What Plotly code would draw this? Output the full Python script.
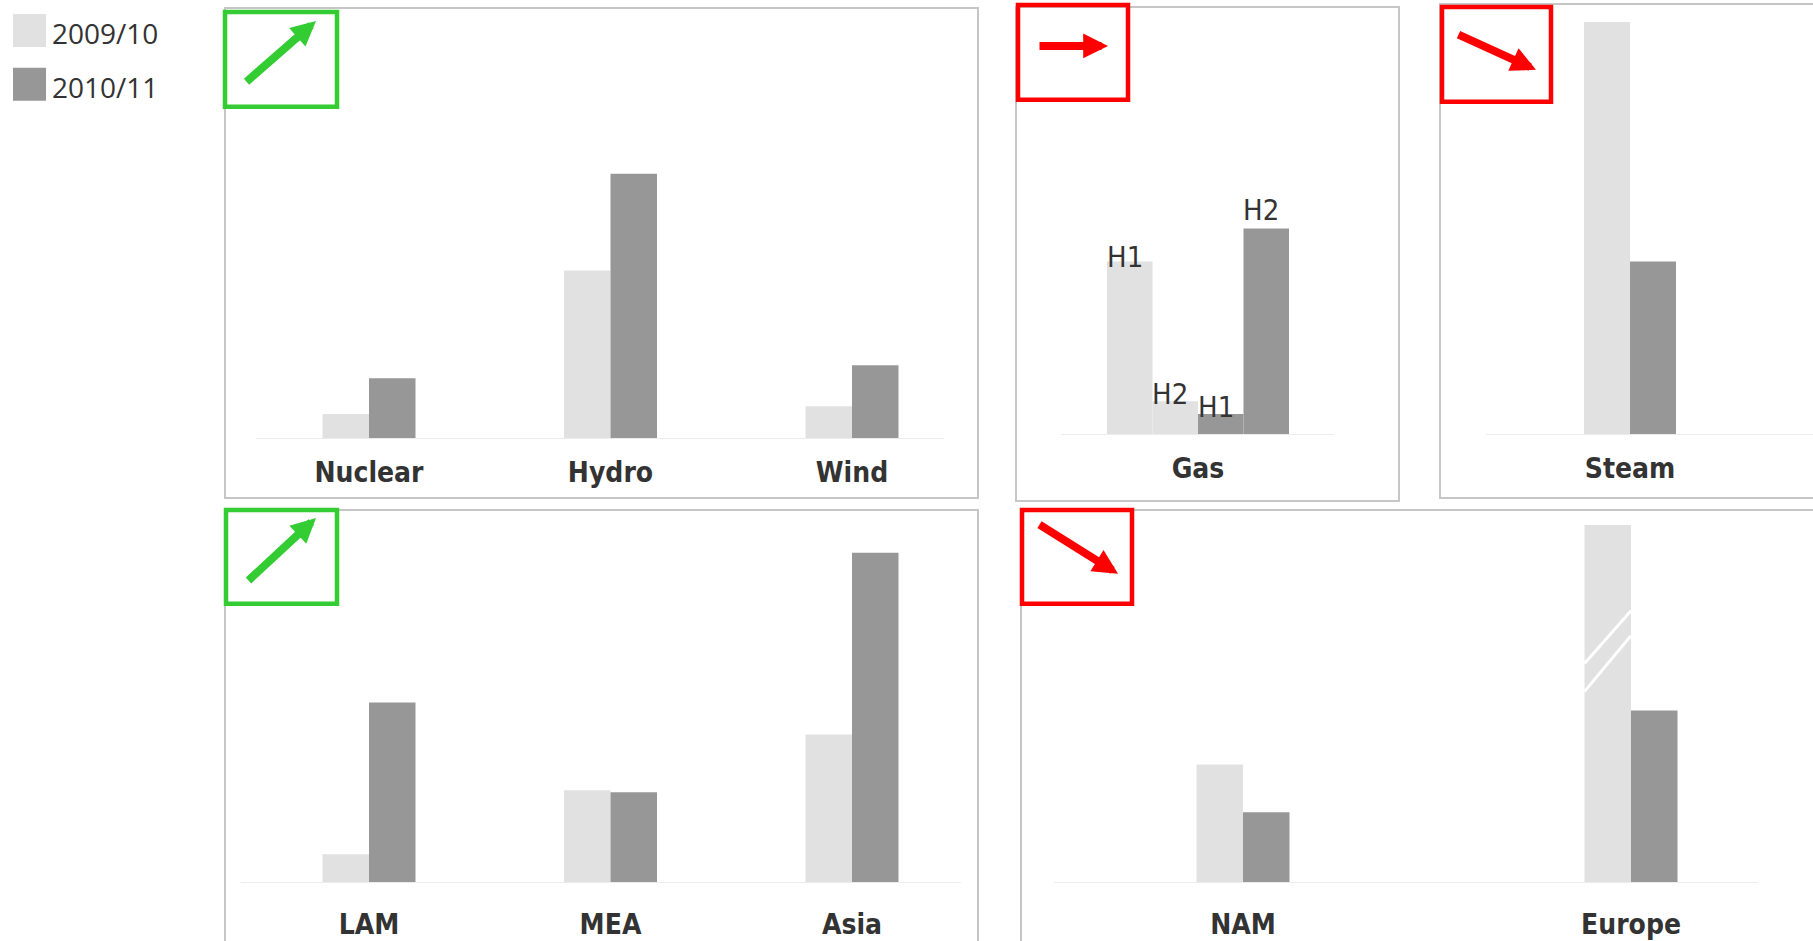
import plotly.graph_objects as go

W, H = 1813, 941

# ---- data -------------------------------------------------------------
SERIES = ["2009/10", "2010/11"]

tech_cats = ["Nuclear", "Hydro", "Wind"]
tech_0910 = [24, 168, 32]
tech_1011 = [60, 265, 73]

gas_cat = ["Gas"]
gas_halves = ["H1", "H2"]
gas_0910 = [173, 33]
gas_1011 = [20, 206]

steam_cat = ["Steam"]
steam_0910 = [413]
steam_1011 = [173]

region_cats = ["LAM", "MEA", "Asia"]
region_0910 = [28, 92, 148]
region_1011 = [180, 90, 330]

west_cats = ["NAM", "Europe"]
west_0910 = [118, 358]
west_1011 = [70, 172]

# ---- styling ----------------------------------------------------------
COLORS = ["#e1e1e1", "#979797"]
GREEN = "#33cc33"
RED = "#ff0000"
FRAME = "#c6c6c6"
TEXT = "#333333"
LABEL_FONT = "Liberation Sans Narrow, DejaVu Sans Condensed, sans-serif"
LEGEND_FONT = "Open Sans, sans-serif"


def fx(x):
    return x / W


def fy(y):
    return 1 - y / H


# panel geometry in pixels: axis extent, first category centre, category step,
# baseline and top of the plotting area, bar width
panels = [
    dict(x0=256, x1=944, first=369, step=241.5, base=439, top=10, bw=46.5),
    dict(x0=1061, x1=1334, first=1198, step=241.5, base=435, top=10, bw=45.5),
    dict(x0=1486, x1=1813, first=1630, step=241.5, base=435, top=10, bw=46.0),
    dict(x0=241, x1=961, first=369, step=241.5, base=884, top=515, bw=46.5),
    dict(x0=1054, x1=1758, first=1243, step=388.0, base=884, top=515, bw=46.5),
]

fig = go.Figure()


def axis_names(n):
    return ("x" if n == 1 else f"x{n}"), ("y" if n == 1 else f"y{n}")


def add_pair(n, cats, v0, v1):
    p = panels[n - 1]
    bw = p["bw"] / p["step"]
    xa, ya = axis_names(n)
    for vals, col, off, name in ((v0, COLORS[0], -bw, SERIES[0]), (v1, COLORS[1], 0.0, SERIES[1])):
        fig.add_trace(go.Bar(
            x=cats, y=vals, name=name, marker=dict(color=col, line=dict(width=0)),
            width=bw, offset=off, xaxis=xa, yaxis=ya, showlegend=False,
            hoverinfo="x+y+name",
        ))


add_pair(1, tech_cats, tech_0910, tech_1011)
add_pair(3, steam_cat, steam_0910, steam_1011)
add_pair(4, region_cats, region_0910, region_1011)
add_pair(5, west_cats, west_0910, west_1011)

# gas: each season split into half-years, four adjacent bars with H1/H2 tags
p = panels[1]
bw = p["bw"] / p["step"]
tag_shift = [-15, -12, -12, 0]
k = 0
for vals, col, name in ((gas_0910, COLORS[0], SERIES[0]), (gas_1011, COLORS[1], SERIES[1])):
    for half, v in zip(gas_halves, vals):
        off = (k - 2) * bw
        fig.add_trace(go.Bar(
            x=gas_cat, y=[v], name=f"{name} {half}", marker=dict(color=col, line=dict(width=0)),
            width=bw, offset=off, xaxis="x2", yaxis="y2", showlegend=False,
        ))
        fig.add_annotation(xref="x2", yref="y2", x=off + bw / 2, y=v, text=half,
                           showarrow=False, xanchor="center", yanchor="bottom",
                           xshift=-5, yshift=tag_shift[k],
                           font=dict(family=LABEL_FONT, size=29, color=TEXT))
        k += 1

layout = dict(
    width=W, height=H, margin=dict(l=0, r=0, t=0, b=0),
    paper_bgcolor="white", plot_bgcolor="white",
    barmode="overlay", showlegend=False,
    font=dict(family=LEGEND_FONT, color=TEXT),
)

for n, p in enumerate(panels, start=1):
    xa, ya = axis_names(n)
    xkey = "xaxis" if n == 1 else f"xaxis{n}"
    ykey = "yaxis" if n == 1 else f"yaxis{n}"
    layout[xkey] = dict(
        domain=[fx(p["x0"]), fx(p["x1"])], anchor=ya, type="category",
        range=[(p["x0"] - p["first"]) / p["step"], (p["x1"] - p["first"]) / p["step"]],
        showline=True, linecolor="#ececec", linewidth=1, showgrid=False, zeroline=False,
        ticks="", ticklabelstandoff=9 if p["base"] < 500 else 17,
        tickfont=dict(family=LABEL_FONT, size=28, color=TEXT, weight="bold"),
        fixedrange=True,
    )
    layout[ykey] = dict(
        domain=[fy(p["base"]), fy(p["top"])], anchor=xa,
        range=[0, p["base"] - p["top"]], visible=False, fixedrange=True,
    )

fig.update_layout(**layout)

# panel frames (right-hand and bottom panels run off the page)
frames = [(225, 8, 978, 499), (1016, 7, 1399, 502), (1440, 4, 1830, 499),
          (225, 511, 978, 960), (1021, 511, 1830, 960)]
for x0, y0, x1, y1 in frames:
    fig.add_shape(type="rect", xref="paper", yref="paper",
                  x0=fx(x0), x1=fx(x1), y0=fy(y0), y1=fy(y1),
                  line=dict(color=FRAME, width=2), layer="below")

# trend indicators: framed box with an arrow
indicators = [
    ((223, 10, 339, 109), GREEN, (316, 21), (-71, 62)),
    ((1016, 3, 1130, 102), RED, (1108, 46), (-70, 0)),
    ((1440, 5, 1553, 104), RED, (1536, 70), (-79, -36)),
    ((224, 509, 339, 607), GREEN, (316, 519), (-69, 64)),
    ((1020, 509, 1134, 607), RED, (1118, 575), (-80, -50)),
]
for (x0, y0, x1, y1), col, (tx, ty), (ax, ay) in indicators:
    fig.add_shape(type="rect", xref="paper", yref="paper",
                  x0=fx(x0 + 2), x1=fx(x1 - 2), y0=fy(y0 + 2), y1=fy(y1 - 2),
                  line=dict(color=col, width=4.5), layer="above")
    fig.add_annotation(xref="paper", yref="paper", x=fx(tx), y=fy(ty), ax=ax, ay=ay,
                       text="", showarrow=True, arrowhead=2, arrowsize=0.62,
                       arrowwidth=8, arrowcolor=col, standoff=0, startstandoff=0)

# axis-break marks on the truncated Europe 2009/10 bar
p5 = panels[4]
bw5 = p5["bw"] / p5["step"]
ei = west_cats.index("Europe")
for ya0, ya1 in ((219, 272), (191, 247)):
    fig.add_shape(type="line", xref="x5", yref="y5",
                  x0=ei - bw5, x1=ei, y0=ya0, y1=ya1,
                  line=dict(color="white", width=3), layer="above")

# legend swatches
for i, (name, col) in enumerate(zip(SERIES, COLORS)):
    top = 14 + i * 54
    fig.add_shape(type="rect", xref="paper", yref="paper",
                  x0=fx(13), x1=fx(46), y0=fy(top), y1=fy(top + 33),
                  fillcolor=col, line=dict(width=0))
    fig.add_annotation(xref="paper", yref="paper", x=fx(50), y=fy(top + 19),
                       xanchor="left", yanchor="middle", showarrow=False, text=name,
                       font=dict(family=LEGEND_FONT, size=28, color=TEXT))

fig.write_html("out.html")
